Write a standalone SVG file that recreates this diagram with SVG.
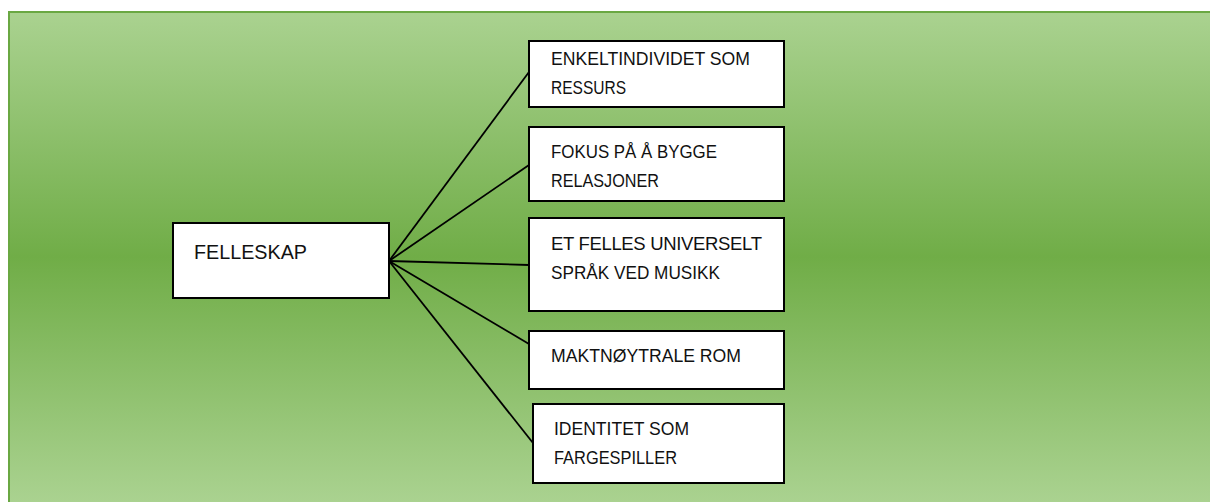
<svg xmlns="http://www.w3.org/2000/svg" width="1210" height="502" viewBox="0 0 1210 502">
  <defs>
    <linearGradient id="bg" x1="0" y1="12" x2="0" y2="502" gradientUnits="userSpaceOnUse">
      <stop offset="0" stop-color="#aad290"/>
      <stop offset="0.5" stop-color="#70ad47"/>
      <stop offset="1" stop-color="#aad290"/>
    </linearGradient>
  </defs>
  <style>
    .box { fill: #ffffff; stroke: #000000; stroke-width: 2; }
    .lbl { font-family: "Liberation Sans", Arial, sans-serif; font-size: 18.5px; fill: #111111; }
    .big { font-family: "Liberation Sans", Arial, sans-serif; font-size: 21px; fill: #111111; }
    .conn line { stroke: #000000; stroke-width: 1.8; }
  </style>
  <rect x="0" y="0" width="1210" height="502" fill="#ffffff"/>
  <rect id="background" x="9" y="12" width="1210" height="500" fill="url(#bg)" stroke="#6aa843" stroke-width="2"/>

  <g id="connectors" class="conn">
    <line x1="389" y1="261" x2="529" y2="72"/>
    <line x1="389" y1="261" x2="529" y2="165"/>
    <line x1="389" y1="261" x2="529" y2="265"/>
    <line x1="389" y1="261" x2="529" y2="344"/>
    <line x1="389" y1="261" x2="533" y2="443"/>
  </g>

  <g id="felleskap">
    <rect class="box" x="173" y="223" width="216" height="75"/>
    <text class="big" x="194" y="259" textLength="113" lengthAdjust="spacingAndGlyphs">FELLESKAP</text>
  </g>

  <g id="enkeltindividet">
    <rect class="box" x="529" y="41" width="255" height="66"/>
    <text class="lbl" x="551" y="65" textLength="199" lengthAdjust="spacingAndGlyphs">ENKELTINDIVIDET SOM</text>
    <text class="lbl" x="551" y="94" textLength="75" lengthAdjust="spacingAndGlyphs">RESSURS</text>
  </g>

  <g id="fokus">
    <rect class="box" x="529" y="127" width="255" height="74"/>
    <text class="lbl" x="551" y="158" textLength="166" lengthAdjust="spacingAndGlyphs">FOKUS PÅ Å BYGGE</text>
    <text class="lbl" x="551" y="187" textLength="108" lengthAdjust="spacingAndGlyphs">RELASJONER</text>
  </g>

  <g id="felles-sprak">
    <rect class="box" x="529" y="218" width="255" height="93"/>
    <text class="lbl" x="551" y="250" textLength="211" lengthAdjust="spacing">ET FELLES UNIVERSELT</text>
    <text class="lbl" x="551" y="279" textLength="169" lengthAdjust="spacingAndGlyphs">SPRÅK VED MUSIKK</text>
  </g>

  <g id="maktnoytrale">
    <rect class="box" x="529" y="331" width="255" height="58"/>
    <text class="lbl" x="551" y="362" textLength="190" lengthAdjust="spacingAndGlyphs">MAKTNØYTRALE ROM</text>
  </g>

  <g id="identitet">
    <rect class="box" x="533" y="404" width="251" height="79"/>
    <text class="lbl" x="554" y="435" textLength="135" lengthAdjust="spacingAndGlyphs">IDENTITET SOM</text>
    <text class="lbl" x="554" y="464" textLength="123" lengthAdjust="spacingAndGlyphs">FARGESPILLER</text>
  </g>
</svg>
